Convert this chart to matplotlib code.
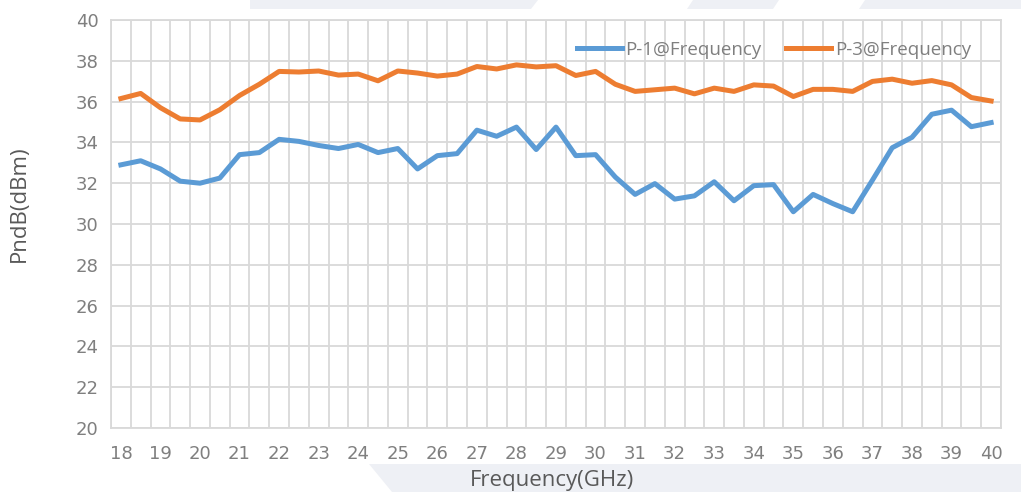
import numpy as np
import matplotlib
matplotlib.use("Agg")
import matplotlib.pyplot as plt
from matplotlib.patches import Polygon
from matplotlib.ticker import MultipleLocator

# frequency points, GHz (every 0.5 GHz from 18 to 40)
freq = np.arange(18, 40.01, 0.5)

p1 = [32.9, 33.1, 32.7, 32.1, 32.0, 32.25, 33.4, 33.5, 34.15, 34.05,
      33.85, 33.7, 33.9, 33.5, 33.7, 32.7, 33.35, 33.45, 34.6, 34.3,
      34.75, 33.65, 34.75, 33.35, 33.4, 32.3, 31.45, 31.98, 31.22, 31.38,
      32.07, 31.14, 31.88, 31.93, 30.6, 31.45, 31.0, 30.6, 32.15, 33.74,
      34.25, 35.38, 35.58, 34.77, 34.97]

p3 = [36.15, 36.4, 35.7, 35.15, 35.1, 35.6, 36.3, 36.85, 37.48, 37.45,
      37.5, 37.3, 37.35, 37.02, 37.5, 37.4, 37.25, 37.35, 37.72, 37.6,
      37.8, 37.7, 37.76, 37.28, 37.48, 36.85, 36.5, 36.58, 36.66, 36.38,
      36.66, 36.5, 36.82, 36.76, 36.25, 36.6, 36.6, 36.5, 36.99, 37.1,
      36.9, 37.03, 36.82, 36.2, 36.03]

labels = ["P-1@Frequency", "P-3@Frequency"]
colors = ["#5B9BD5", "#ED7D31"]

W, H = 1021, 492
fig = plt.figure(figsize=(W / 100, H / 100), dpi=100)

# faint background shapes behind the chart
grey = "#eef0f5"
def px(pts):
    return [(x / W, 1 - y / H) for x, y in pts]

fig.patches.append(Polygon(px([(250, 0), (1021, 0), (1021, 9), (250, 9)]),
                           closed=True, transform=fig.transFigure, fc=grey, ec="none", zorder=-2))
for a, b, c, d in [(538, 693, 687, 531), (779, 865, 859, 773)]:
    fig.patches.append(Polygon(px([(a, 0), (b, 0), (c, 9), (d, 9)]),
                               closed=True, transform=fig.transFigure, fc="white", ec="none", zorder=-1))
fig.patches.append(Polygon(px([(369, 464), (1021, 464), (1021, 492), (392, 492)]),
                           closed=True, transform=fig.transFigure, fc=grey, ec="none", zorder=-2))

ax = fig.add_axes([111 / W, 1 - 428 / H, 890 / W, 408 / H])
ax.patch.set_alpha(0)

for y, lab, col in zip([p1, p3], labels, colors):
    ax.plot(freq, y, color=col, lw=3.6, label=lab, solid_joinstyle="round", zorder=3)

ax.set_xlim(17.75, 40.25)
ax.set_ylim(20, 40)
ax.xaxis.set_major_locator(MultipleLocator(1))
ax.xaxis.set_minor_locator(MultipleLocator(0.5, offset=0.25))
ax.yaxis.set_major_locator(MultipleLocator(2))
ax.grid(True, which="minor", axis="x", color="#d9d9d9", lw=1.3, zorder=0)
ax.grid(True, which="major", axis="y", color="#d9d9d9", lw=1.3, zorder=0)
for s in ax.spines.values():
    s.set_color("#d9d9d9")
    s.set_linewidth(1.3)

ax.tick_params(which="both", length=0, colors="#7f7f7f", labelsize=13)
ax.tick_params(axis="x", pad=12)
ax.tick_params(axis="y", pad=9)
for t in ax.get_xticklabels() + ax.get_yticklabels():
    t.set_fontfamily(["Liberation Sans Narrow", "DejaVu Sans"])

ax.set_xlabel("Frequency(GHz)", fontsize=16, color="#595959",
              family=["Open Sans", "DejaVu Sans"])
ax.xaxis.set_label_coords(0.495, -0.102)
ax.set_ylabel("PndB(dBm)", fontsize=16, color="#595959",
              family=["Open Sans", "DejaVu Sans"])
ax.yaxis.set_label_coords(-0.091, 0.55)

leg = ax.legend(loc="upper right", bbox_to_anchor=(0.985, 0.99), ncol=2, frameon=False,
                handlelength=2.4, columnspacing=1.3, handletextpad=0.2,
                labelcolor="#7f7f7f", prop={"family": ["Open Sans", "DejaVu Sans"], "size": 13.5})

fig.savefig("out.png", dpi=100)
